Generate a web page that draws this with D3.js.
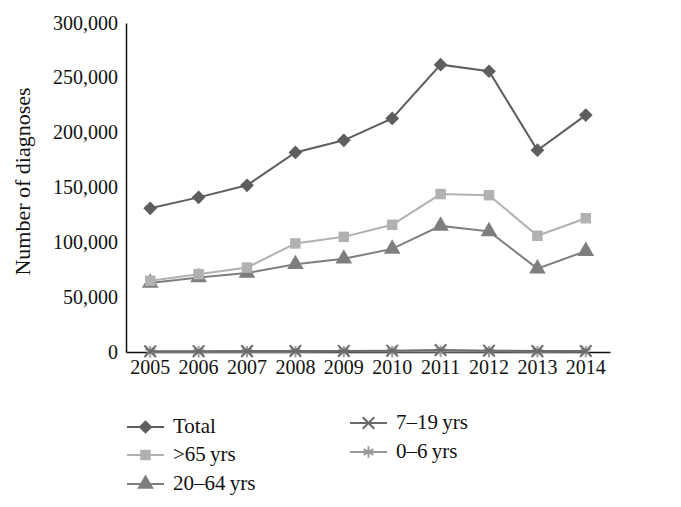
<!DOCTYPE html>
<html>
<head>
<meta charset="utf-8">
<script src="https://cdn.jsdelivr.net/npm/d3@7"></script>
<style>
  body { margin: 0; background: #fff; }
  text { font-family: "Liberation Serif", "DejaVu Serif", serif; fill: #111; }
</style>
</head>
<body>
<svg id="chart" width="681" height="507"></svg>
<script>
// data
var years = ["2005", "2006", "2007", "2008", "2009", "2010", "2011", "2012", "2013", "2014"];
var total = [131000, 141000, 152000, 182000, 193000, 213000, 262000, 256000, 184000, 216000];
var over65 = [65000, 71000, 77000, 99000, 105000, 116000, 144000, 143000, 106000, 122000];
var age20to64 = [63000, 68000, 72000, 80000, 85000, 94000, 115000, 110000, 76000, 92000];
var age7to19 = [600, 700, 800, 900, 1000, 1200, 1800, 1200, 800, 900];
var age0to6 = [200, 250, 300, 300, 350, 400, 500, 400, 300, 350];
var yTicks = [0, 50000, 100000, 150000, 200000, 250000, 300000];

var series = [
    {name: "Total", values: total, color: "#5e5e5e", symbol: d3.symbolDiamond2, size: 120},
    {name: ">65\u2009yrs", values: over65, color: "#b1b1b1", symbol: d3.symbolSquare2, size: 140},
    {name: "20\u201364\u2009yrs", values: age20to64, color: "#7e7e7e", symbol: d3.symbolTriangle, size: 120},
    {name: "7\u201319\u2009yrs", values: age7to19, color: "#6a6a6a", symbol: d3.symbolX, size: 90},
    {name: "0\u20136\u2009yrs", values: age0to6, color: "#9a9a9a", symbol: d3.symbolAsterisk, size: 90}
];

var svg = d3.select("#chart");
var m = {left: 126, right: 71, top: 23, bottom: 155};
var w = 681 - m.left - m.right;
var h = 507 - m.top - m.bottom;

var g = svg.append("g").attr("transform", "translate(" + m.left + "," + m.top + ")");

var x = d3.scaleBand().domain(years).range([0, w]);
var y = d3.scaleLinear().domain([0, 300000]).range([h, 0]);

// y axis
var yAxis = g.append("g").call(d3.axisLeft(y).tickValues(yTicks).tickSize(0).tickPadding(8)
    .tickFormat(d3.format(",")));
yAxis.select(".domain").attr("stroke", "#111").attr("stroke-width", 1.5);
yAxis.selectAll("text").style("font-size", "20px").attr("dy", "0.3em");

// x axis
var xAxis = g.append("g").attr("transform", "translate(0," + h + ")")
    .call(d3.axisBottom(x).tickSize(0).tickPadding(8));
xAxis.select(".domain").attr("stroke", "#111").attr("stroke-width", 1.5);
xAxis.selectAll("text").style("font-size", "20px");

g.append("text")
    .attr("transform", "rotate(-90)")
    .attr("x", -h / 2 + 6)
    .attr("y", -96)
    .attr("text-anchor", "middle")
    .style("font-size", "22px")
    .text("Number of diagnoses");

var line = d3.line()
    .x(function (d, i) { return x(years[i]) + x.bandwidth() / 2; })
    .y(function (d) { return y(d); });

// draw from bottom series up so Total stays on top
series.slice().reverse().forEach(function (s) {
    g.append("path")
        .datum(s.values)
        .attr("fill", "none")
        .attr("stroke", s.color)
        .attr("stroke-width", 2)
        .attr("d", line);

    var sym = d3.symbol().type(s.symbol).size(s.size);
    var isStroke = s.symbol === d3.symbolX || s.symbol === d3.symbolAsterisk;
    g.selectAll(null)
        .data(s.values)
        .enter().append("path")
        .attr("d", sym)
        .attr("transform", function (d, i) {
            return "translate(" + (x(years[i]) + x.bandwidth() / 2) + "," + y(d) + ")";
        })
        .attr("fill", isStroke ? "none" : s.color)
        .attr("stroke", s.color)
        .attr("stroke-width", isStroke ? 2 : 0);
});

// legend
var legendPos = [
    {x: 127, y: 427}, {x: 127, y: 455}, {x: 127, y: 484},
    {x: 350, y: 423}, {x: 350, y: 452}
];
series.forEach(function (s, i) {
    var p = legendPos[i];
    var lg = svg.append("g").attr("transform", "translate(" + p.x + "," + p.y + ")");
    lg.append("line").attr("x1", 0).attr("x2", 37)
        .attr("stroke", s.color).attr("stroke-width", 2);
    var isStroke = s.symbol === d3.symbolX || s.symbol === d3.symbolAsterisk;
    lg.append("path")
        .attr("d", d3.symbol().type(s.symbol).size(s.size))
        .attr("transform", "translate(18.5,0)")
        .attr("fill", isStroke ? "none" : s.color)
        .attr("stroke", s.color)
        .attr("stroke-width", isStroke ? 2 : 0);
    lg.append("text").attr("x", 46).attr("dy", "0.3em")
        .style("font-size", "21px")
        .text(s.name);
});
</script>
</body>
</html>
